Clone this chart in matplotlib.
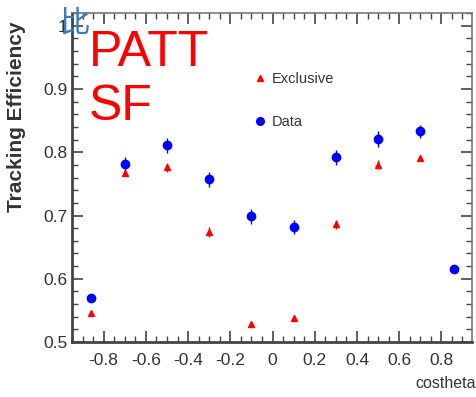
import matplotlib.pyplot as plt
from matplotlib.ticker import MultipleLocator
from matplotlib.lines import Line2D

plt.rcParams["font.family"] = ["Liberation Sans", "Noto Sans CJK SC", "DejaVu Sans"]

cos_data = [-0.86, -0.7, -0.5, -0.3, -0.1, 0.1, 0.3, 0.5, 0.7, 0.86]
eff_data = [0.569, 0.781, 0.811, 0.757, 0.699, 0.682, 0.792, 0.821, 0.833, 0.615]
err_data = [0.005, 0.011, 0.012, 0.012, 0.012, 0.011, 0.012, 0.012, 0.010, 0.004]

cos_excl = [-0.86, -0.7, -0.5, -0.3, -0.1, 0.1, 0.3, 0.5, 0.7]
eff_excl = [0.546, 0.767, 0.776, 0.674, 0.528, 0.538, 0.686, 0.780, 0.791]
err_excl = [0.003, 0.005, 0.007, 0.008, 0.004, 0.003, 0.007, 0.007, 0.004]

fig = plt.figure(figsize=(4.77, 3.97), dpi=100)
ax = fig.add_axes([0.151, 0.1385, 0.8385, 0.8285])

ax.errorbar(cos_excl, eff_excl, yerr=err_excl, fmt="^", color="red", ms=5,
            elinewidth=1, capsize=0)
ax.errorbar(cos_data, eff_data, yerr=err_data, fmt="o", color="blue", ms=6,
            elinewidth=1, capsize=0)

ax.set_xlim(-0.95, 0.945)
ax.set_ylim(0.5, 1.02)
ax.xaxis.set_minor_locator(MultipleLocator(0.05))
ax.yaxis.set_minor_locator(MultipleLocator(0.02))
ax.set_xticks([-0.8, -0.6, -0.4, -0.2, 0, 0.2, 0.4, 0.6, 0.8])
ax.set_xticklabels(["-0.8", "-0.6", "-0.4", "-0.2", "0", "0.2", "0.4", "0.6", "0.8"])
ax.set_yticks([0.5, 0.6, 0.7, 0.8, 0.9, 1.0])
ax.set_yticklabels(["0.5", "0.6", "0.7", "0.8", "0.9", "1"])
ax.tick_params(which="both", direction="in", top=True, right=True, colors="#444444",
               labelsize=12.5, labelcolor="#333333")
ax.tick_params(which="major", length=8, width=1.2)
ax.tick_params(which="minor", length=4, width=1)
ax.tick_params(axis="x", pad=8)
for side in ["left", "bottom"]:
    ax.spines[side].set_linewidth(2)
    ax.spines[side].set_color("#444444")
for side in ["top", "right"]:
    ax.spines[side].set_linewidth(1.2)
    ax.spines[side].set_color("#777777")

ax.set_ylabel("Tracking Efficiency", fontsize=15, fontweight="bold", color="#333333")
ax.yaxis.set_label_coords(-0.115, 0.684)
fig.text(0.998, 0.015, "costheta", fontsize=11.5, color="#333333", ha="right", va="bottom")

handles = [Line2D([], [], ls="none", marker="^", color="red", ms=5),
           Line2D([], [], ls="none", marker="o", color="blue", ms=5.5)]
leg = ax.legend(handles, ["Exclusive", "Data"], loc="upper left",
                bbox_to_anchor=(0.42, 0.86), frameon=False, fontsize=10.5,
                labelspacing=2.0, handletextpad=0.3, handlelength=1.0)
for t in leg.get_texts():
    t.set_color("#333333")

fig.text(0.186, 0.925, "PATT\nSF", fontsize=36, color="red", ha="left", va="top",
         linespacing=1.24)
fig.text(0.124, 0.903, "比", fontsize=22, color="#3a7ac0", ha="left", va="bottom",
         family=["Noto Sans CJK SC"])

fig.savefig("out.png")
